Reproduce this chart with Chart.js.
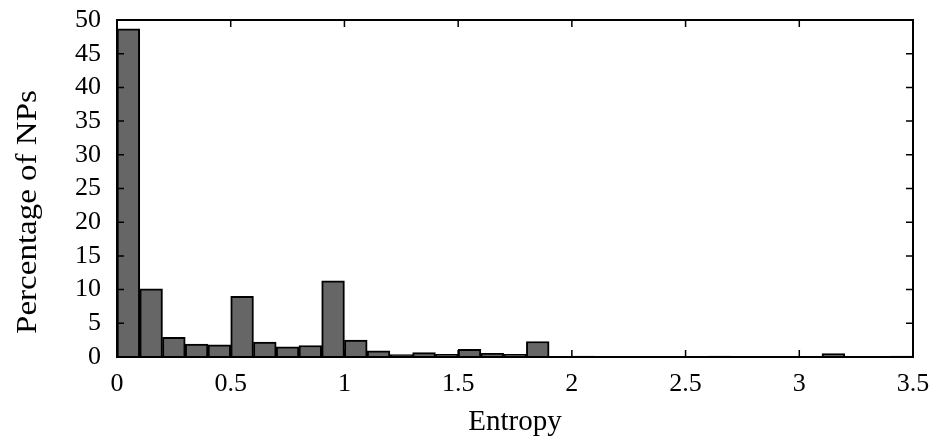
<!DOCTYPE html>
<html>
<head>
<meta charset="utf-8">
<script src="https://cdn.jsdelivr.net/npm/chart.js@4.4.1/dist/chart.umd.min.js"></script>
<style>
  html, body { margin: 0; padding: 0; background: #fff; }
  #wrap { width: 938px; height: 441px; }
</style>
</head>
<body>
<div id="wrap"><canvas id="chart" width="938" height="441"></canvas></div>
<script>
// bin centres (bins of 0.1 from 0 to 3.5)
const binCenters = [
  0.05, 0.15, 0.25, 0.35, 0.45, 0.55, 0.65, 0.75, 0.85, 0.95,
  1.05, 1.15, 1.25, 1.35, 1.45, 1.55, 1.65, 1.75, 1.85, 1.95,
  2.05, 2.15, 2.25, 2.35, 2.45, 2.55, 2.65, 2.75, 2.85, 2.95,
  3.05, 3.15, 3.25, 3.35, 3.45
];

// percentage of NPs per bin
const percentNPs = [
  48.7, 10.1, 2.9, 1.9, 1.8, 9.0, 2.2, 1.5, 1.7, 11.3,
  2.5, 0.9, 0.35, 0.65, 0.4, 1.15, 0.55, 0.4, 2.3, 0,
  0.15, 0, 0.1, 0.1, 0, 0.1, 0.15, 0, 0, 0.05,
  0, 0.5, 0, 0, 0.15
];

const xTicks = [0, 0.5, 1, 1.5, 2, 2.5, 3, 3.5];
const yTicks = [0, 5, 10, 15, 20, 25, 30, 35, 40, 45, 50];

const FONT = "'Liberation Serif', 'Times New Roman', serif";
const TICK_LEN = 7;
const Y_TITLE = "Percentage of NPs";

// frame + inward ticks on all four sides, plus the y title
const framePlugin = {
  id: "frame",
  afterDraw(chart) {
    const { ctx, chartArea: a, scales } = chart;
    ctx.save();
    ctx.strokeStyle = "#000";
    ctx.lineWidth = 2;
    ctx.strokeRect(a.left, a.top, a.right - a.left, a.bottom - a.top);
    ctx.lineWidth = 1.5;
    ctx.beginPath();
    xTicks.forEach((v) => {
      const px = scales.x.getPixelForValue(v);
      ctx.moveTo(px, a.bottom);
      ctx.lineTo(px, a.bottom - TICK_LEN);
      ctx.moveTo(px, a.top);
      ctx.lineTo(px, a.top + TICK_LEN);
    });
    yTicks.forEach((v) => {
      const py = scales.y.getPixelForValue(v);
      ctx.moveTo(a.left, py);
      ctx.lineTo(a.left + TICK_LEN, py);
      ctx.moveTo(a.right, py);
      ctx.lineTo(a.right - TICK_LEN, py);
    });
    ctx.stroke();

    // y axis title, slightly below the plot centre as in the original
    ctx.translate(28, 212);
    ctx.rotate(-Math.PI / 2);
    ctx.scale(1.1, 1);
    ctx.font = "30px " + FONT;
    ctx.fillStyle = "#000";
    ctx.textAlign = "center";
    ctx.textBaseline = "middle";
    ctx.fillText(Y_TITLE, 0, 0);
    ctx.restore();
  },
};

new Chart(document.getElementById("chart"), {
  type: "bar",
  data: {
    datasets: [
      {
        data: binCenters.map((x, i) => ({ x, y: percentNPs[i] })),
        backgroundColor: "#666666",
        borderColor: "#000000",
        borderWidth: 2,
        barPercentage: 1,
        categoryPercentage: 1,
      },
    ],
  },
  options: {
    responsive: false,
    animation: false,
    layout: { padding: { top: 20, right: 25, left: 0, bottom: 0 } },
    plugins: {
      legend: { display: false },
      tooltip: { enabled: false },
    },
    scales: {
      x: {
        type: "linear",
        min: 0,
        max: 3.5,
        offset: false,
        afterBuildTicks: (s) => { s.ticks = xTicks.map((v) => ({ value: v })); },
        afterFit: (s) => {
          s.height = 84;
          s.paddingLeft = 0;
          s.paddingRight = 0;
        },
        grid: { display: false, drawTicks: false },
        border: { display: false },
        ticks: {
          color: "#000",
          font: { family: FONT, size: 26 },
          padding: 12,
          maxRotation: 0,
          autoSkip: false,
          callback: (v) => String(v),
        },
        title: {
          display: true,
          text: "Entropy",
          color: "#000",
          font: { family: FONT, size: 29 },
          padding: { top: 0, bottom: 1 },
        },
      },
      y: {
        min: 0,
        max: 50,
        afterBuildTicks: (s) => { s.ticks = yTicks.map((v) => ({ value: v })); },
        afterFit: (s) => {
          s.width = 117;
          s.paddingTop = 0;
          s.paddingBottom = 0;
        },
        grid: { display: false, drawTicks: false },
        border: { display: false },
        ticks: {
          color: "#000",
          font: { family: FONT, size: 26 },
          padding: 16,
          autoSkip: false,
          callback: (v) => String(v),
        },
        title: { display: false },
      },
    },
  },
  plugins: [framePlugin],
});
</script>
</body>
</html>
